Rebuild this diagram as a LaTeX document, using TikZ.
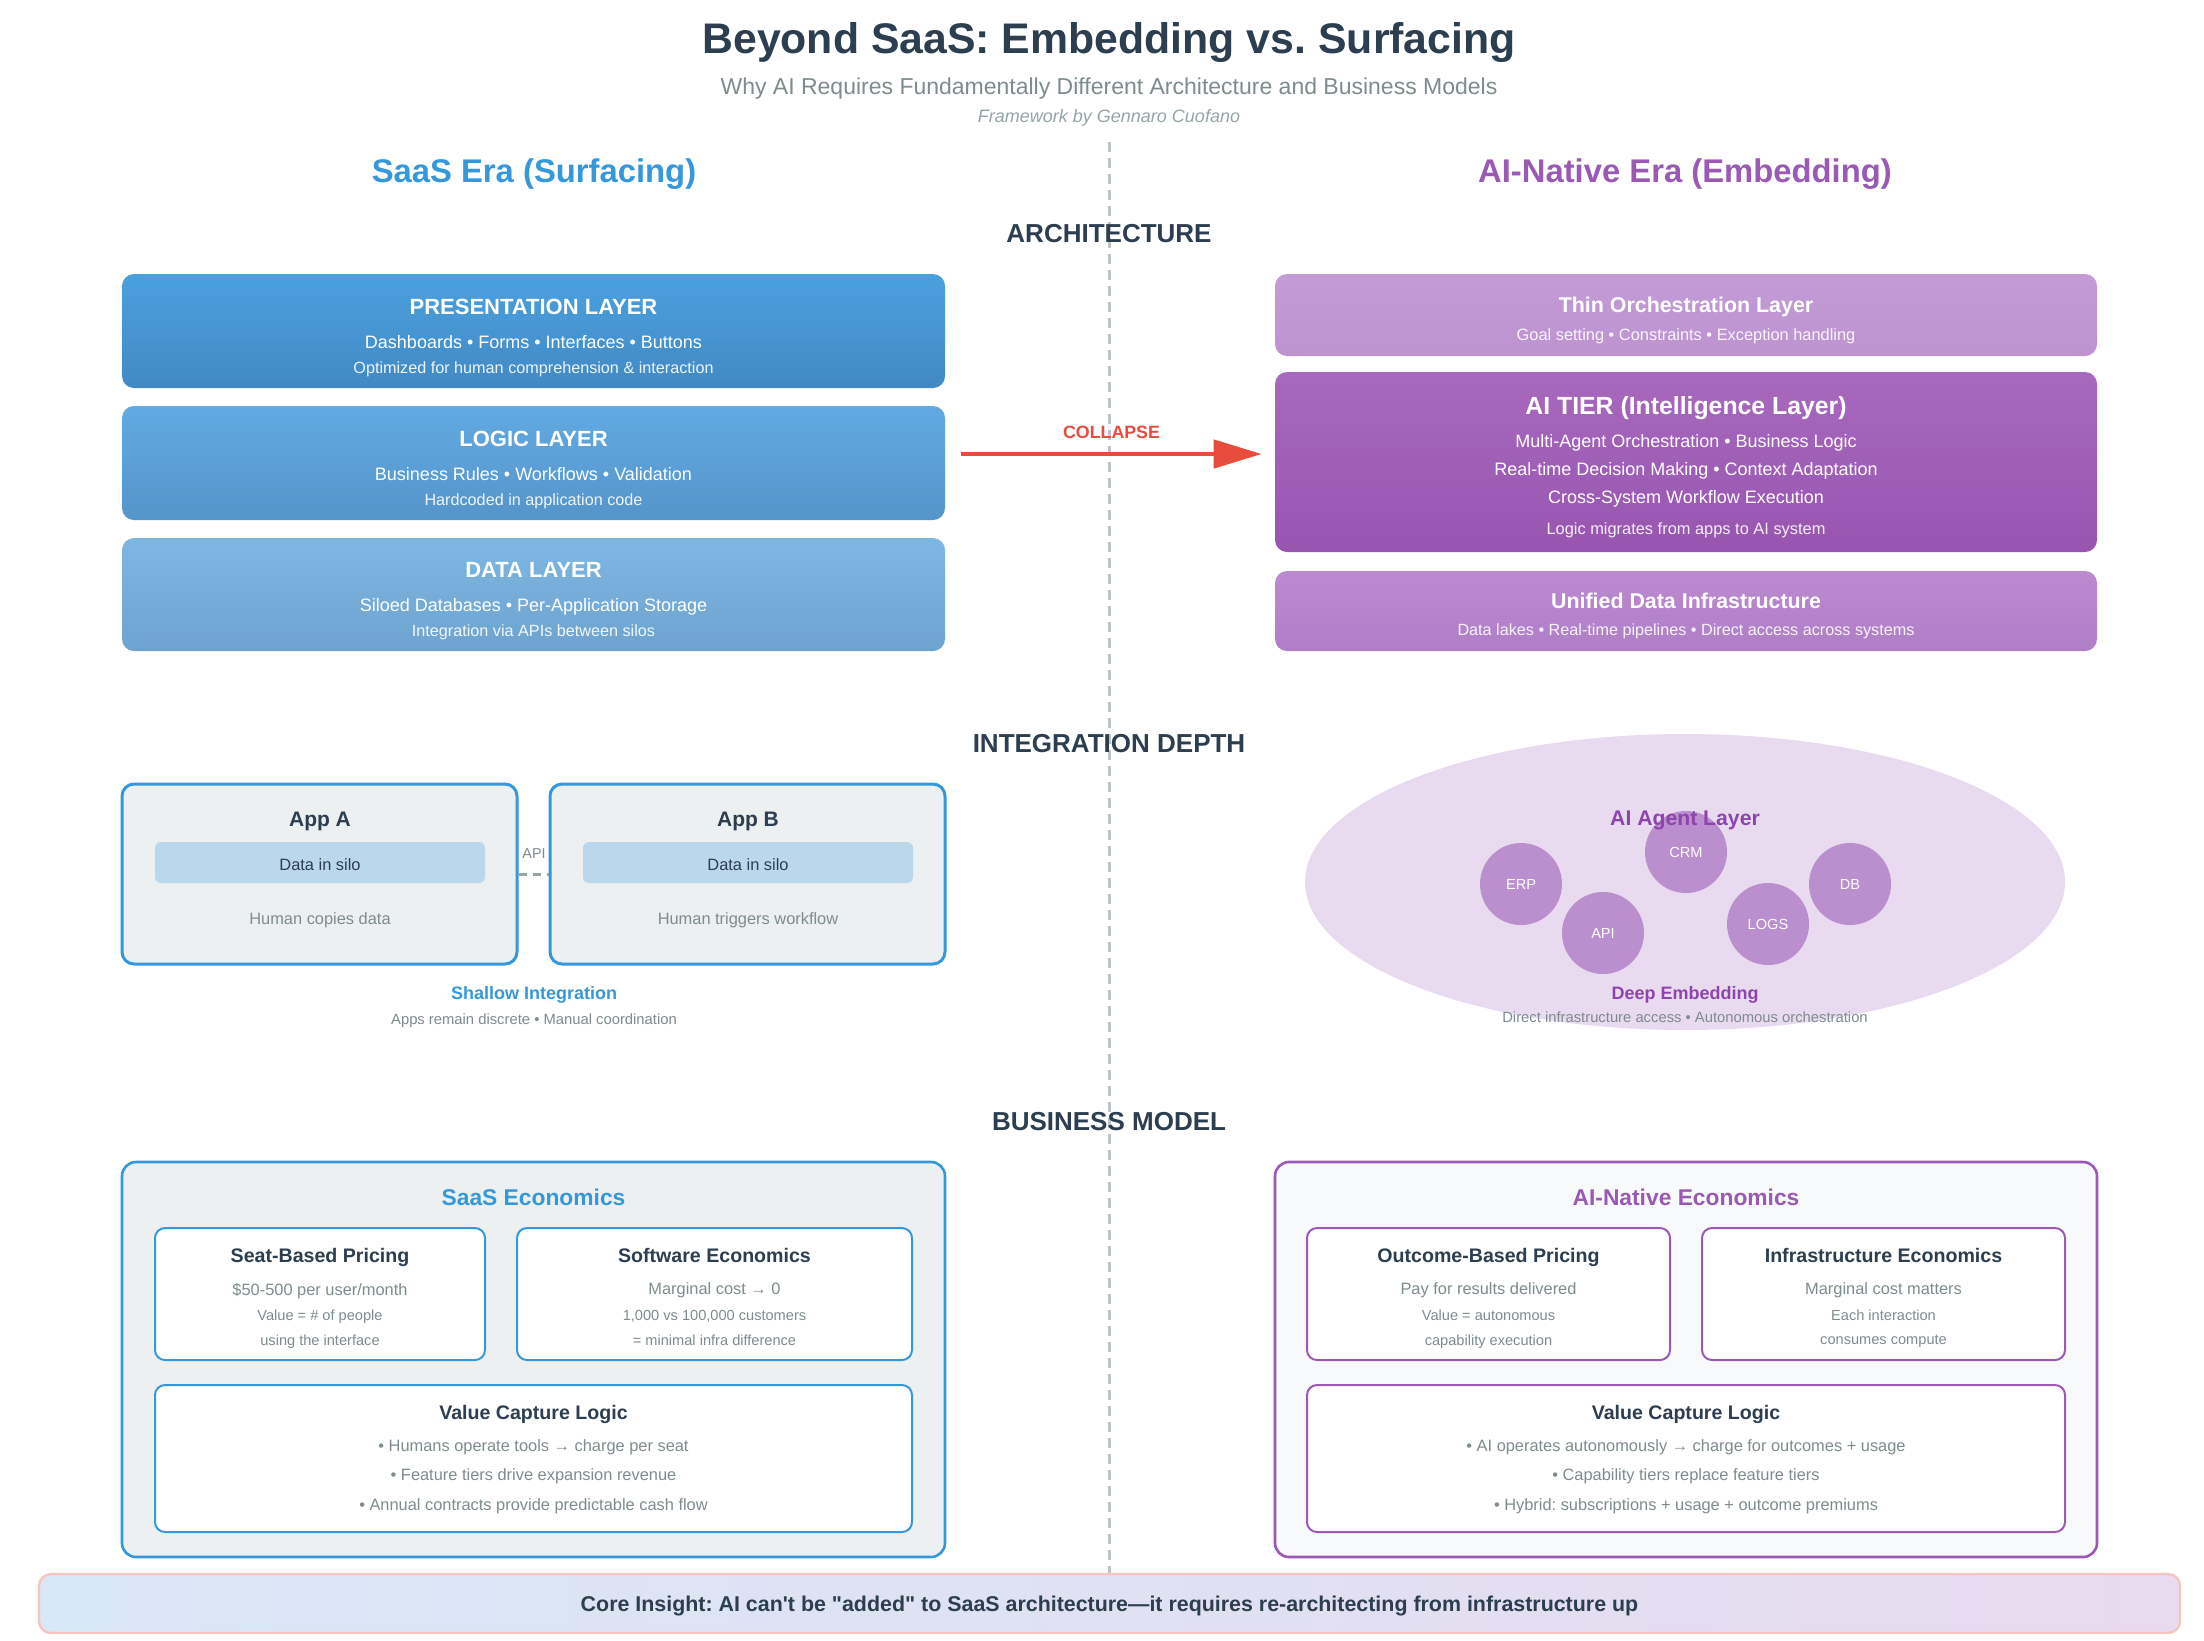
\documentclass[tikz,border=0pt]{standalone}
\usepackage{fontspec}
\setmainfont{Liberation Sans}
\usetikzlibrary{arrows.meta,
	shapes.geometric}
\definecolor{ink}{HTML}{2C3E50}
\definecolor{slate}{HTML}{7F8C8D}
\definecolor{mist}{HTML}{95A5A6}
\definecolor{divgray}{HTML}{BDC3C7}
\definecolor{saasblue}{HTML}{3498DB}
\definecolor{aipurple}{HTML}{9B59B6}
\definecolor{deeppurple}{HTML}{8E44AD}
\definecolor{paneblue}{HTML}{ECF0F1}
\definecolor{cloud}{HTML}{F8F9FA}
\definecolor{silo}{HTML}{BAD7EC}
\definecolor{collapsered}{HTML}{E74C3C}
\definecolor{haze}{HTML}{E8DAEF}
\definecolor{orbfill}{HTML}{BB8FCE}
\definecolor{skyfill}{HTML}{D8E8F6}
\definecolor{blush}{HTML}{F5C6C0}
\definecolor{presA}{HTML}{4AA1DE}
\definecolor{presB}{HTML}{4289C4}
\definecolor{logicA}{HTML}{62AAE2}
\definecolor{logicB}{HTML}{5495CB}
\definecolor{dataA}{HTML}{7DB7E2}
\definecolor{dataB}{HTML}{6EA3CF}
\definecolor{thinA}{HTML}{C49BD5}
\definecolor{thinB}{HTML}{BE93D0}
\definecolor{tierA}{HTML}{A769BE}
\definecolor{tierB}{HTML}{9755B0}
\definecolor{unifA}{HTML}{BB8ACF}
\definecolor{unifB}{HTML}{B07EC7}
\newcommand{\fsz}[1]{\fontsize{#1}{#1}\selectfont}
\frenchspacing

\begin{document}
\begin{tikzpicture}[x=0.5pt,y=-0.5pt,every node/.append style={text depth=0pt}]
      \tikzstyle{heading}=[font=\bfseries\fsz{13}, text=ink]
      \tikzstyle{tier}=[rounded corners=6pt, minimum width=411.5pt, inner sep=0pt]
      \tikzstyle{tierhead}=[text=white, font=\bfseries\fsz{11}]
      \tikzstyle{tierline}=[text=white, font=\fsz{9}]
      \tikzstyle{tiernote}=[text=white, text opacity=0.9, font=\fsz{8.1}]
      \tikzstyle{appbox}=[draw=saasblue, line width=1.5pt, fill=paneblue, rounded corners=6pt, minimum width=197.5pt, minimum height=90pt]
      \tikzstyle{silobar}=[fill=silo, rounded corners=3pt, minimum width=165pt, minimum height=20.5pt]
      \tikzstyle{orb}=[circle, fill=orbfill, minimum size=41pt, inner sep=0pt, text=white, font=\fsz{7.3}]
      \tikzstyle{econframe}=[rounded corners=7pt, line width=1.3pt, minimum width=411.5pt, minimum height=197.5pt]
      \tikzstyle{card}=[fill=white, rounded corners=5pt, line width=1pt, minimum height=66pt]
      \tikzstyle{cardhead}=[text=ink, font=\bfseries\fsz{9.8}]
      \tikzstyle{cardline}=[text=slate, font=\fsz{8.2}]
      \tikzstyle{cardsmall}=[text=slate, font=\fsz{7.3}]
      \tikzstyle{collapsearrow}=[draw=collapsered, line width=2.3pt, -{Triangle[length=24pt,width=14pt]}]
      \useasboundingbox (0,0) rectangle (2204,1640);
      \fill[white] (0,0) rectangle (2204,1640);
      \coordinate (divtop) at (1109,142);
      \coordinate (divbot) at (1109,1582);
      \draw[divgray, line width=1.5pt, dash pattern=on 5pt off 3pt] (divtop) -- (divbot);

      \node[font=\bfseries\fsz{21.4}, text=ink] (title) at (1109,38) {Beyond SaaS: Embedding vs. Surfacing};
      \node[font=\fsz{11.5}, text=slate] (subtitle) at (1109,86) {Why AI Requires Fundamentally Different Architecture and Business Models};
      \node[font=\itshape\fsz{9}, text=mist] (byline) at (1109,116) {Framework by Gennaro Cuofano};
      \node[font=\bfseries\fsz{16.4}, text=saasblue] (saashead) at (534,171) {SaaS Era (Surfacing)};
      \node[font=\bfseries\fsz{16.4}, text=aipurple] (aihead) at (1685,171) {AI-Native Era (Embedding)};

      \node[heading] (archhead) at (1109,233) {ARCHITECTURE};
      \node[tier, minimum height=57pt, top color=presA, bottom color=presB] (pres) at (533.5,331) {};
      \node[tier, minimum height=57pt, top color=logicA, bottom color=logicB] (logic) at (533.5,463) {};
      \node[tier, minimum height=56.5pt, top color=dataA, bottom color=dataB] (data) at (533.5,594.5) {};
      \node[tierhead] (preshead) at (533.5,307) {PRESENTATION LAYER};
      \node[tierline] (presline) at (533.5,342) {Dashboards • Forms • Interfaces • Buttons};
      \node[tiernote] (presnote) at (533.5,368) {Optimized for human comprehension \& interaction};
      \node[tierhead] (logichead) at (533.5,439) {LOGIC LAYER};
      \node[tierline] (logicline) at (533.5,474) {Business Rules • Workflows • Validation};
      \node[tiernote] (logicnote) at (533.5,500) {Hardcoded in application code};
      \node[tierhead] (datahead) at (533.5,570) {DATA LAYER};
      \node[tierline] (dataline) at (533.5,605) {Siloed Databases • Per-Application Storage};
      \node[tiernote] (datanote) at (533.5,631) {Integration via APIs between silos};

      \node[tier, minimum width=411pt, minimum height=41pt, top color=thinA, bottom color=thinB] (thin) at (1686,315) {};
      \node[tier, minimum width=411pt, minimum height=90pt, top color=tierA, bottom color=tierB] (aitier) at (1686,462) {};
      \node[tier, minimum width=411pt, minimum height=40pt, top color=unifA, bottom color=unifB] (unified) at (1686,611) {};
      \node[tierhead, font=\bfseries\fsz{10.7}] (thinhead) at (1686,305) {Thin Orchestration Layer};
      \node[tiernote, font=\fsz{8.2}] (thinnote) at (1686,335) {Goal setting • Constraints • Exception handling};
      \node[tierhead, font=\bfseries\fsz{12.4}] (aitierhead) at (1686,406) {AI TIER (Intelligence Layer)};
      \node[tierline] (aitierone) at (1686,441) {Multi-Agent Orchestration • Business Logic};
      \node[tierline] (aitiertwo) at (1686,469) {Real-time Decision Making • Context Adaptation};
      \node[tierline] (aitierthree) at (1686,497) {Cross-System Workflow Execution};
      \node[tiernote, font=\fsz{8.2}] (aitiernote) at (1686,529) {Logic migrates from apps to AI system};
      \node[tierhead, font=\bfseries\fsz{10.7}] (unifiedhead) at (1686,601) {Unified Data Infrastructure};
      \node[tiernote] (unifiednote) at (1686,630) {Data lakes • Real-time pipelines • Direct access across systems};

      \draw[collapsearrow] ([shift={(16,-9)}]logic.east) -- node[midway, above=3.5pt, text=collapsered, font=\bfseries\fsz{8.9}] (collapselbl) {COLLAPSE} ([shift={(-13,-8)}]aitier.west);

      \node[heading] (inthead) at (1109,743) {INTEGRATION DEPTH};
      \node[appbox] (appa) at (319.5,874) {};
      \node[appbox] (appb) at (747.5,874) {};
      \node[silobar] (siloa) at (320,862.5) {};
      \node[silobar] (silob) at (748,862.5) {};
      \node[text=ink, font=\bfseries\fsz{10.5}] (appahead) at (320,819) {App A};
      \node[text=ink, font=\bfseries\fsz{10.5}] (appbhead) at (748,819) {App B};
      \node[text=ink, font=\fsz{8.2}] (siloatext) at (320,865) {Data in silo};
      \node[text=ink, font=\fsz{8.2}] (silobtext) at (748,865) {Data in silo};
      \node[text=slate, font=\fsz{8.2}] (appanote) at (320,919) {Human copies data};
      \node[text=slate, font=\fsz{8.2}] (appbnote) at (748,919) {Human triggers workflow};
      \draw[mist, line width=1.5pt, dash pattern=on 4pt off 3pt] (appa.east) -- (appb.west);
      \node[text=slate, font=\fsz{7.2}] (apilbl) at (534,854) {API};
      \node[text=saasblue, font=\bfseries\fsz{9}] (shallow) at (534,993) {Shallow Integration};
      \node[text=slate, font=\fsz{7.4}] (shallownote) at (534,1019) {Apps remain discrete • Manual coordination};

      \node[ellipse, fill=haze, minimum width=380pt, minimum height=148pt, inner sep=0pt] (agentzone) at (1685,882) {};
      \node[orb] (erp) at (1521,884) {ERP};
      \node[orb] (crm) at (1686,852) {CRM};
      \node[orb] (db) at (1850,884) {DB};
      \node[orb] (api) at (1603,933) {API};
      \node[orb] (logs) at (1768,924) {LOGS};
      \node[text=deeppurple, font=\bfseries\fsz{10.6}] (agenthead) at (1685,818) {AI Agent Layer};
      \node[text=deeppurple, font=\bfseries\fsz{9}] (deep) at (1685,993) {Deep Embedding};
      \node[text=slate, font=\fsz{7.4}] (deepnote) at (1685,1017) {Direct infrastructure access • Autonomous orchestration};

      \node[heading] (bizhead) at (1109,1121) {BUSINESS MODEL};
      \node[econframe, draw=saasblue, fill=paneblue] (saasecon) at (533.5,1359.5) {};
      \node[card, draw=saasblue, minimum width=165pt] (seat) at (320,1294) {};
      \node[card, draw=saasblue, minimum width=197.5pt] (software) at (714.5,1294) {};
      \node[card, draw=saasblue, minimum width=378.5pt, minimum height=73.5pt] (saasvalue) at (533.5,1458.5) {};
      \node[text=saasblue, font=\bfseries\fsz{11.4}] (saasecohead) at (533.5,1197) {SaaS Economics};
      \node[cardhead] (seathead) at (320,1255) {Seat-Based Pricing};
      \node[cardline] (seatone) at (320,1289) {\$50-500 per user/month};
      \node[cardsmall] (seattwo) at (320,1315) {Value = \# of people};
      \node[cardsmall] (seatthree) at (320,1340) {using the interface};
      \node[cardhead] (softhead) at (714.5,1255) {Software Economics};
      \node[cardline] (softone) at (714.5,1289) {Marginal cost → 0};
      \node[cardsmall] (softtwo) at (714.5,1315) {1,000 vs 100,000 customers};
      \node[cardsmall] (softthree) at (714.5,1340) {= minimal infra difference};
      \node[cardhead] (saasvalhead) at (533.5,1412) {Value Capture Logic};
      \node[cardline] (saasvalone) at (533.5,1446) {• Humans operate tools → charge per seat};
      \node[cardline] (saasvaltwo) at (533.5,1475) {• Feature tiers drive expansion revenue};
      \node[cardline] (saasvalthree) at (533.5,1505) {• Annual contracts provide predictable cash flow};

      \node[econframe, minimum width=411pt, draw=aipurple, fill=cloud] (aiecon) at (1686,1359.5) {};
      \node[card, draw=aipurple, minimum width=181.5pt] (outcome) at (1488.5,1294) {};
      \node[card, draw=aipurple, minimum width=181.5pt] (infra) at (1883.5,1294) {};
      \node[card, draw=aipurple, minimum width=379pt, minimum height=73.5pt] (aivalue) at (1686,1458.5) {};
      \node[text=aipurple, font=\bfseries\fsz{11.4}] (aiecohead) at (1686,1197) {AI-Native Economics};
      \node[cardhead] (outhead) at (1488.5,1255) {Outcome-Based Pricing};
      \node[cardline] (outone) at (1488.5,1289) {Pay for results delivered};
      \node[cardsmall] (outtwo) at (1488.5,1315) {Value = autonomous};
      \node[cardsmall] (outthree) at (1488.5,1340) {capability execution};
      \node[cardhead] (infrahead) at (1883.5,1255) {Infrastructure Economics};
      \node[cardline] (infraone) at (1883.5,1289) {Marginal cost matters};
      \node[cardsmall] (infratwo) at (1883.5,1315) {Each interaction};
      \node[cardsmall] (infrathree) at (1883.5,1340) {consumes compute};
      \node[cardhead] (aivalhead) at (1686,1412) {Value Capture Logic};
      \node[cardline] (aivalone) at (1686,1446) {• AI operates autonomously → charge for outcomes + usage};
      \node[cardline] (aivaltwo) at (1686,1475) {• Capability tiers replace feature tiers};
      \node[cardline] (aivalthree) at (1686,1505) {• Hybrid: subscriptions + usage + outcome premiums};

      \node[rounded corners=6pt, left color=skyfill, right color=haze, draw=blush, line width=1.2pt, minimum width=1070.5pt, minimum height=29.5pt, text=ink, font=\bfseries\fsz{10.7}] (insight) at (1109.5,1603.5) {Core Insight: AI can\textquotesingle t be \textquotedbl added\textquotedbl{} to SaaS architecture—it requires re-architecting from infrastructure up};
    \end{tikzpicture}
\end{document}
